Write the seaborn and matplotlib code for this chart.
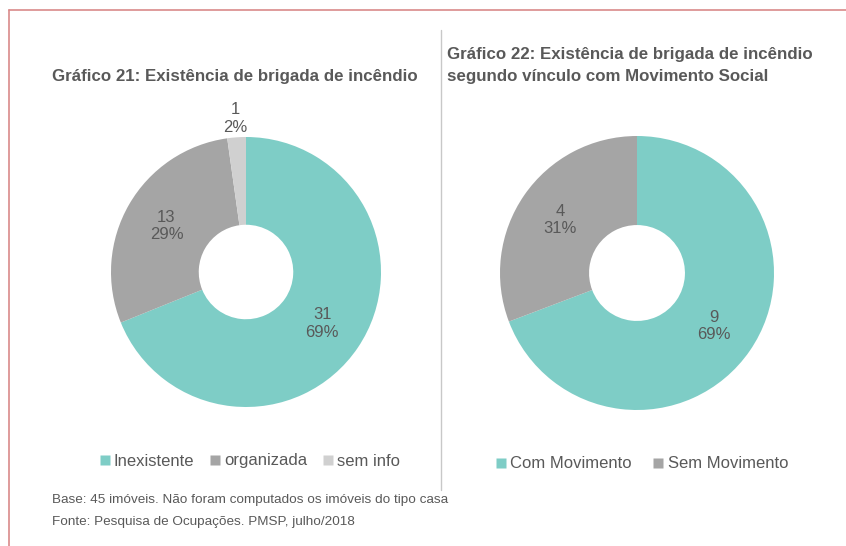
import numpy as np
import matplotlib
matplotlib.use("Agg")
import matplotlib.pyplot as plt
import seaborn as sns
from matplotlib.lines import Line2D

sns.set_theme(style="white")
plt.rcParams['font.family'] = ['Liberation Sans', 'DejaVu Sans']

# data
cat21 = ["Inexistente", "organizada", "sem info"]
val21 = [31, 13, 1]
pct21 = ["69%", "29%", "2%"]

cat22 = ["Com Movimento", "Sem Movimento"]
val22 = [9, 4]
pct22 = ["69%", "31%"]

title21 = "Gráfico 21: Existência de brigada de incêndio"
title22 = "Gráfico 22: Existência de brigada de incêndio\nsegundo vínculo com Movimento Social"
nota = ["Base: 45 imóveis. Não foram computados os imóveis do tipo casa",
        "Fonte: Pesquisa de Ocupações. PMSP, julho/2018"]

cores = ["#7ECDC6", "#A5A5A5", "#D0D0D0"]
txt = "#595959"

W, H = 846, 546
fig = plt.figure(figsize=(W / 100, H / 100), dpi=100)
fig.patch.set_facecolor("white")


def donut(cx, cy, r, vals, pcts, out_idx=()):
    s = 2.6 * r
    ax = fig.add_axes([(cx - s / 2) / W, (H - cy - s / 2) / H, s / W, s / H])
    ax.pie(vals, colors=cores[:len(vals)], startangle=90, counterclock=False,
           radius=1, wedgeprops=dict(width=0.65, edgecolor="none"))
    tot = sum(vals)
    cum = np.cumsum([0] + vals)
    for i, v in enumerate(vals):
        mid = np.deg2rad(90 - 360 * (cum[i] + v / 2) / tot)
        d = 1.14 if i in out_idx else 0.68
        ax.text(d * np.cos(mid), d * np.sin(mid), f"{v}\n{pcts[i]}", ha="center",
                va="center", fontsize=12, color=txt, linespacing=1.2)
    ax.set_xlim(-1.3, 1.3)
    ax.set_ylim(-1.3, 1.3)
    ax.set_aspect("equal")
    ax.axis("off")
    return ax


donut(246, 272, 135, val21, pct21, out_idx=(2,))
donut(637, 273, 137, val22, pct22)

fig.text(52 / W, 1 - 76 / H, title21, fontsize=12.2, fontweight="bold", color=txt,
         ha="left", va="center")
fig.text(447 / W, 1 - 65.5 / H, title22, fontsize=12.2, fontweight="bold", color=txt,
         ha="left", va="center", linespacing=1.6)


def legenda(cats, x, y, sp):
    hs = [Line2D([], [], marker="s", linestyle="none", markersize=7,
                 markerfacecolor=cores[i], markeredgecolor="none") for i in range(len(cats))]
    fig.legend(hs, cats, loc="center", bbox_to_anchor=(x / W, 1 - y / H), ncol=len(cats),
               frameon=False, fontsize=12, handlelength=0.6, handletextpad=0.25,
               columnspacing=sp, labelcolor=txt)


legenda(cat21, 250, 461, 0.95)
legenda(cat22, 642, 464, 1.3)

fig.text(52 / W, 1 - 500 / H, nota[0], fontsize=9.7, color=txt, ha="left", va="center")
fig.text(52 / W, 1 - 522 / H, nota[1], fontsize=9.7, color=txt, ha="left", va="center")

# frame lines
fig.add_artist(Line2D([9 / W, 1], [1 - 10 / H, 1 - 10 / H], color="#D98A8A", lw=1.2))
fig.add_artist(Line2D([9 / W, 9 / W], [0, 1 - 10 / H], color="#D98A8A", lw=1.2))
fig.add_artist(Line2D([441 / W, 441 / W], [1 - 30 / H, 1 - 490 / H], color="#C8C8C8", lw=1))

fig.savefig("out.png", dpi=100, facecolor="white")
